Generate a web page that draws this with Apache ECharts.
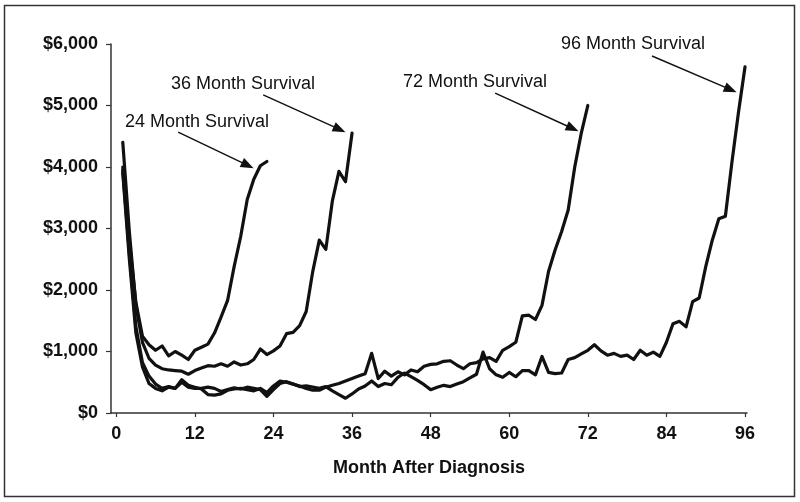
<!DOCTYPE html>
<html>
<head>
<meta charset="utf-8">
<script src="https://cdn.jsdelivr.net/npm/echarts@6/dist/echarts.min.js"></script>
<style>
html,body{margin:0;padding:0;background:#fff;}
#chart{width:800px;height:502px;}
</style>
</head>
<body>
<div id="chart"></div>
<script>
// ---- data ----
const months = [1,2,3,4,5,6,7,8,9,10,11,12,13,14,15,16,17,18,19,20,21,22,23,24,
  25,26,27,28,29,30,31,32,33,34,35,36,37,38,39,40,41,42,43,44,45,46,47,48,
  49,50,51,52,53,54,55,56,57,58,59,60,61,62,63,64,65,66,67,68,69,70,71,72,
  73,74,75,76,77,78,79,80,81,82,83,84,85,86,87,88,89,90,91,92,93,94,95,96];

const xTickValues = [0, 12, 24, 36, 48, 60, 72, 84, 96];

const surv24 = [4000, 2800, 1800, 1250, 1110, 1020, 1090, 930, 1000, 940, 870, 1020,
  1070, 1120, 1300, 1560, 1830, 2380, 2870, 3470, 3800, 4020, 4090];

const surv36 = [4400, 2950, 1750, 1150, 890, 780, 720, 700, 690, 680, 630, 690,
  730, 770, 760, 800, 760, 830, 780, 800, 870, 1040, 950, 1010,
  1090, 1290, 1310, 1420, 1650, 2300, 2810, 2660, 3450, 3930, 3760, 4550];

const surv72 = [3950, 2600, 1400, 820, 600, 470, 400, 430, 400, 540,
  450, 420, 390, 300, 290, 310, 370, 390, 400, 380,
  360, 400, 330, 440, 520, 500, 470, 440, 400, 370,
  370, 420, 450, 480, 520, 560, 600, 640, 970, 560,
  680, 600, 670, 620, 700, 670, 760, 790, 800, 840,
  850, 780, 720, 800, 820, 880, 900, 840, 1020, 1080,
  1150, 1580, 1590, 1520, 1750, 2300, 2650, 2950, 3300, 4000,
  4550, 5000];

const surv96 = [3900, 2500, 1300, 750, 480, 400, 360, 420, 400, 500,
  420, 400, 400, 420, 400, 350, 380, 410, 390, 420,
  400, 380, 270, 380, 480, 510, 470, 430, 440, 420,
  400, 430, 360, 300, 240, 310, 390, 440, 520, 430,
  480, 460, 580, 650, 590, 530, 460, 380, 420, 450,
  430, 470, 510, 570, 630, 990, 720, 620, 580, 660,
  590, 690, 690, 620, 920, 660, 640, 650, 870, 900,
  960, 1020, 1110, 1010, 940, 970, 920, 940, 870, 1020,
  940, 990, 920, 1150, 1450, 1490, 1400, 1810, 1870, 2380,
  2810, 3160, 3200, 4080, 4890, 5630];

// annotation labels and arrow anchors (data units: [month, dollars])
const labelTexts = ['24 Month Survival', '36 Month Survival', '72 Month Survival', '96 Month Survival'];
const arrowStarts = [[9.45, 4569], [22.43, 5171], [57.85, 5203], [81.8, 5805]];
const arrowEnds   = [[20.08, 4026], [34.1, 4610], [69.68, 4626], [93.8, 5258]];

// ---- chart ----
const chart = echarts.init(document.getElementById('chart'), null, {renderer: 'canvas'});

function pairs(vals) { return vals.map((v, i) => [months[i], v]); }

const lineStyle = {color: '#111', width: 3.2, join: 'round', cap: 'round'};
const font = '"Liberation Sans", Arial, Helvetica, sans-serif';

const seriesVals = [surv24, surv36, surv72, surv96];
const series = seriesVals.map((vals, k) => ({
  type: 'line',
  data: pairs(vals),
  showSymbol: false,
  symbol: 'none',
  lineStyle: lineStyle,
  silent: true,
  z: 3,
  markLine: {
    silent: true,
    symbol: ['none', 'triangle'],
    symbolSize: [10, 13],
    label: {show: false},
    lineStyle: {color: '#111', width: 1.4, type: 'solid'},
    data: [[{coord: arrowStarts[k]}, {coord: arrowEnds[k]}]]
  }
}));

const labelPos = [[125, 123], [171, 85], [403, 83], [561, 45]];

chart.setOption({
  animation: false,
  backgroundColor: '#fff',
  grid: {left: 111, right: 53, top: 44, bottom: 89, containLabel: false},
  xAxis: {
    type: 'value',
    min: -0.8,
    max: 96.3,
    axisLine: {show: true, onZero: false, lineStyle: {color: '#333', width: 1.5}},
    axisTick: {show: true, customValues: xTickValues, length: 4, lineStyle: {color: '#333', width: 1.2}},
    axisLabel: {customValues: xTickValues, margin: 12, color: '#111', fontSize: 18, fontWeight: 'bold', fontFamily: font},
    splitLine: {show: false},
    name: 'Month After Diagnosis',
    nameLocation: 'middle',
    nameGap: 46,
    nameTextStyle: {color: '#111', fontSize: 18, fontWeight: 'bold', fontFamily: font}
  },
  yAxis: {
    type: 'value',
    min: 0,
    max: 6000,
    interval: 1000,
    axisLine: {show: true, onZero: false, lineStyle: {color: '#333', width: 1.5}},
    axisTick: {show: true, length: 5, lineStyle: {color: '#333', width: 1.2}},
    axisLabel: {
      margin: 13, color: '#111', fontSize: 18, fontWeight: 'bold', fontFamily: font,
      formatter: v => '$' + v.toLocaleString('en-US')
    },
    splitLine: {show: false}
  },
  graphic: [
    {type: 'rect', shape: {x: 4.5, y: 5.5, width: 790, height: 491}, style: {fill: 'none', stroke: '#333', lineWidth: 1.5}, silent: true, z: 0}
  ].concat(labelTexts.map((t, i) => ({
    type: 'text', left: labelPos[i][0], top: labelPos[i][1] - 10,
    style: {text: t, fill: '#111', font: '18px ' + font}, silent: true
  }))),
  series: series
});
</script>
</body>
</html>
